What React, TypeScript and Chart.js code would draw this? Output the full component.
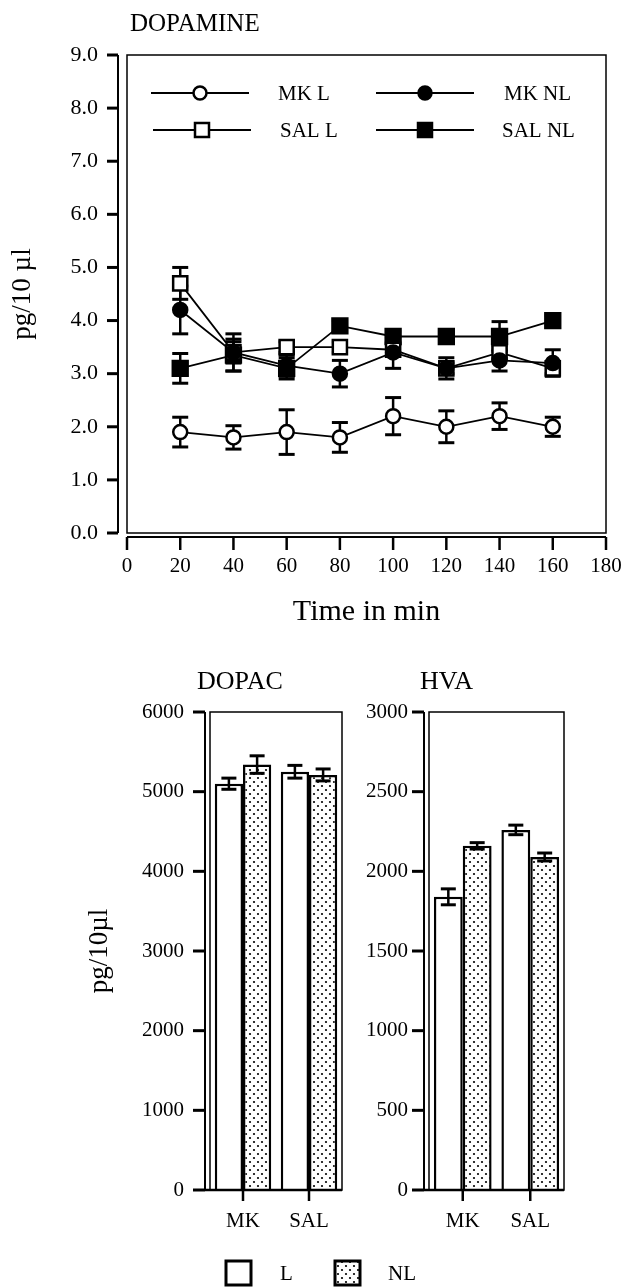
import React, { useEffect, useRef } from 'react';
import { Chart, registerables } from 'chart.js';
Chart.register(...registerables);

const FONT = '"Liberation Serif", "Times New Roman", serif';

// ---- DOPAMINE time course ----
const timePoints = [20, 40, 60, 80, 100, 120, 140, 160];
const mkL = [1.9, 1.8, 1.9, 1.8, 2.2, 2.0, 2.2, 2.0];
const mkLErr = [0.28, 0.22, 0.42, 0.28, 0.35, 0.3, 0.25, 0.18];
const mkNL = [4.2, 3.4, 3.15, 3.0, 3.4, 3.1, 3.25, 3.2];
const mkNLErr = [0.45, 0.35, 0.2, 0.25, 0.3, 0.2, 0.2, 0.25];
const salL = [4.7, 3.4, 3.5, 3.5, 3.45, 3.1, 3.4, 3.1];
const salLErr = [0.3, 0.2, 0.1, 0.1, 0.1, 0.1, 0.12, 0.1];
const salNL = [3.1, 3.35, 3.1, 3.9, 3.7, 3.7, 3.7, 4.0];
const salNLErr = [0.28, 0.3, 0.2, 0.1, 0.1, 0.1, 0.28, 0.1];
const seriesNames = ['MK L', 'MK NL', 'SAL L', 'SAL NL'];

// ---- DOPAC / HVA bars ----
const groups = ['MK', 'SAL'];
const dopacL = [5100, 5250];
const dopacLErr = [70, 80];
const dopacNL = [5340, 5210];
const dopacNLErr = [110, 75];
const hvaL = [1840, 2260];
const hvaLErr = [50, 30];
const hvaNL = [2160, 2090];
const hvaNLErr = [20, 25];
const barLegend = ['L', 'NL'];

function line(ctx: CanvasRenderingContext2D, x1: number, y1: number, x2: number, y2: number) {
  ctx.beginPath();
  ctx.moveTo(x1, y1);
  ctx.lineTo(x2, y2);
  ctx.stroke();
}

function marker(ctx: CanvasRenderingContext2D, style: string, filled: boolean, x: number, y: number) {
  ctx.save();
  ctx.lineWidth = 2.5;
  ctx.strokeStyle = '#000';
  ctx.fillStyle = filled ? '#000' : '#fff';
  ctx.beginPath();
  if (style === 'circle') ctx.arc(x, y, 6.5, 0, Math.PI * 2);
  else ctx.rect(x - 7, y - 7, 14, 14);
  ctx.fill();
  ctx.stroke();
  ctx.restore();
}

function errorBar(ctx: CanvasRenderingContext2D, x: number, yLo: number, yHi: number, cap: number) {
  ctx.lineWidth = 2.5;
  line(ctx, x, yLo, x, yHi);
  ctx.lineWidth = 3;
  line(ctx, x - cap / 2, yLo, x + cap / 2, yLo);
  line(ctx, x - cap / 2, yHi, x + cap / 2, yHi);
}

function dotPattern(ctx: CanvasRenderingContext2D) {
  const c = document.createElement('canvas');
  c.width = 8;
  c.height = 8;
  const g = c.getContext('2d')!;
  g.fillStyle = '#fff';
  g.fillRect(0, 0, 8, 8);
  g.fillStyle = '#000';
  g.beginPath();
  g.arc(2, 2, 1.1, 0, Math.PI * 2);
  g.fill();
  g.beginPath();
  g.arc(6, 6, 1.1, 0, Math.PI * 2);
  g.fill();
  return ctx.createPattern(c, 'repeat');
}

const topErrors = [mkLErr, mkNLErr, salLErr, salNLErr];

const topPlugin = {
  id: 'topFrame',
  beforeDatasetsDraw(chart: any) {
    const { ctx, chartArea: a, scales } = chart;
    const x = scales.x;
    const y = scales.y;
    ctx.save();
    ctx.strokeStyle = '#000';
    ctx.lineWidth = 1.5;
    ctx.strokeRect(a.left, a.top, a.right - a.left, a.bottom - a.top);
    const ax = a.left - 9;
    ctx.lineWidth = 2;
    line(ctx, ax, a.top, ax, a.bottom);
    ctx.lineWidth = 3;
    y.ticks.forEach((t: any) => {
      const py = y.getPixelForValue(t.value);
      line(ctx, ax - 11, py, ax, py);
    });
    const ay = a.bottom + 4;
    ctx.lineWidth = 2;
    line(ctx, a.left, ay, a.right, ay);
    ctx.lineWidth = 2.5;
    x.ticks.forEach((t: any) => {
      const px = x.getPixelForValue(t.value);
      line(ctx, px, ay, px, ay + 13);
    });
    chart.data.datasets.forEach((ds: any, i: number) => {
      const errs = topErrors[i];
      ds.data.forEach((p: any, j: number) => {
        const px = x.getPixelForValue(p.x);
        errorBar(ctx, px, y.getPixelForValue(p.y - errs[j]), y.getPixelForValue(p.y + errs[j]), 16);
      });
    });
    ctx.restore();
  },
  afterDraw(chart: any) {
    const { ctx, chartArea: a } = chart;
    ctx.save();
    ctx.fillStyle = '#000';
    ctx.strokeStyle = '#000';
    ctx.font = `25px ${FONT}`;
    ctx.textBaseline = 'middle';
    ctx.textAlign = 'left';
    ctx.fillText('DOPAMINE', a.left + 3, 24);
    const items = [
      { name: seriesNames[0], style: 'circle', filled: false, x: a.left + 24, y: 93, tx: a.left + 151 },
      { name: seriesNames[1], style: 'circle', filled: true, x: a.left + 249, y: 93, tx: a.left + 377 },
      { name: seriesNames[2], style: 'rect', filled: false, x: a.left + 26, y: 130, tx: a.left + 153 },
      { name: seriesNames[3], style: 'rect', filled: true, x: a.left + 249, y: 130, tx: a.left + 375 },
    ];
    ctx.font = `21px ${FONT}`;
    items.forEach((it) => {
      ctx.lineWidth = 1.8;
      line(ctx, it.x, it.y, it.x + 98, it.y);
      marker(ctx, it.style, it.filled, it.x + 49, it.y);
      ctx.fillText(it.name, it.tx, it.y + 1);
    });
    ctx.restore();
  },
};

function makeBarPlugin(errL: number[], errNL: number[], title: string, titleDx: number, withLegend: boolean, pattern: any) {
  return {
    id: 'barFrame',
    afterDatasetsDraw(chart: any) {
      const { ctx, chartArea: a, scales } = chart;
      const x = scales.x;
      const y = scales.y;
      ctx.save();
      ctx.strokeStyle = '#000';
      ctx.fillStyle = '#000';
      ctx.lineWidth = 1.5;
      ctx.strokeRect(a.left, a.top, a.right - a.left, a.bottom - a.top);
      const ax = a.left - 5;
      ctx.lineWidth = 2;
      line(ctx, ax, a.top, ax, a.bottom);
      ctx.lineWidth = 3;
      y.ticks.forEach((t: any) => {
        const py = y.getPixelForValue(t.value);
        line(ctx, ax - 12, py, ax, py);
      });
      ctx.lineWidth = 2.5;
      line(ctx, ax, a.bottom, a.right, a.bottom);
      x.ticks.forEach((_t: any, i: number) => {
        const px = x.getPixelForTick(i);
        line(ctx, px, a.bottom, px, a.bottom + 11);
      });
      [errL, errNL].forEach((errs, di) => {
        const meta = chart.getDatasetMeta(di);
        const vals = chart.data.datasets[di].data;
        meta.data.forEach((el: any, j: number) => {
          errorBar(ctx, el.x, y.getPixelForValue(vals[j] - errs[j]), y.getPixelForValue(vals[j] + errs[j]), 15);
        });
      });
      ctx.font = `26px ${FONT}`;
      ctx.textBaseline = 'middle';
      ctx.textAlign = 'left';
      ctx.fillText(title, a.left + titleDx, 42);
      if (withLegend) {
        ctx.lineWidth = 3;
        ctx.fillStyle = '#fff';
        ctx.fillRect(226, 621, 25, 24);
        ctx.strokeRect(226, 621, 25, 24);
        ctx.fillStyle = pattern;
        ctx.fillRect(335, 621, 25, 24);
        ctx.strokeRect(335, 621, 25, 24);
        ctx.fillStyle = '#000';
        ctx.font = `21px ${FONT}`;
        ctx.fillText(barLegend[0], 280, 634);
        ctx.fillText(barLegend[1], 388, 634);
      }
      ctx.restore();
    },
  };
}

function barChart(canvas: HTMLCanvasElement, cfg: any) {
  const ctx = canvas.getContext('2d')!;
  const pattern = dotPattern(ctx);
  return new Chart(canvas, {
    type: 'bar',
    data: {
      labels: groups,
      datasets: [
        { label: barLegend[0], data: cfg.L, backgroundColor: '#fff', borderColor: '#000', borderWidth: 2.5, categoryPercentage: 0.855, barPercentage: 1.0 },
        { label: barLegend[1], data: cfg.NL, backgroundColor: pattern, borderColor: '#000', borderWidth: 2.5, categoryPercentage: 0.855, barPercentage: 1.0 },
      ],
    },
    options: {
      animation: false,
      responsive: false,
      maintainAspectRatio: false,
      devicePixelRatio: 1,
      layout: { padding: { top: 72, right: 626 - cfg.right, left: 0, bottom: 0 } },
      plugins: { legend: { display: false }, tooltip: { enabled: false } },
      scales: {
        x: {
          afterFit: (s: any) => { s.height = 98; s.paddingLeft = 0; s.paddingRight = 0; },
          grid: { display: false, drawTicks: false },
          border: { display: false },
          ticks: { font: { family: FONT, size: 21 }, color: '#000', padding: 19 },
        },
        y: {
          min: 0,
          max: cfg.max,
          afterFit: (s: any) => { s.width = cfg.left; },
          grid: { display: false, drawTicks: false },
          border: { display: false },
          ticks: { stepSize: cfg.step, font: { family: FONT, size: 21 }, color: '#000', padding: cfg.tickPad, callback: (v: any) => String(v) },
          title: {
            display: cfg.yTitle,
            text: 'pg/10µl',
            font: { family: FONT, size: 27 },
            color: '#000',
            padding: { top: 84, bottom: 0 },
          },
        },
      },
    },
    plugins: [makeBarPlugin(cfg.Lerr, cfg.NLerr, cfg.title, cfg.titleDx, cfg.legend, pattern)],
  } as any);
}

export default function App() {
  const topRef = useRef<HTMLCanvasElement>(null);
  const dopacRef = useRef<HTMLCanvasElement>(null);
  const hvaRef = useRef<HTMLCanvasElement>(null);

  useEffect(() => {
    const pts = (vals: number[]) => timePoints.map((t, i) => ({ x: t, y: vals[i] }));
    const common = { borderColor: '#000', borderWidth: 1.8, pointBorderColor: '#000', pointBorderWidth: 2.5, showLine: true };
    const top = new Chart(topRef.current!, {
      type: 'scatter',
      data: {
        datasets: [
          { ...common, label: seriesNames[0], data: pts(mkL), pointStyle: 'circle', pointRadius: 7, pointBackgroundColor: '#fff' },
          { ...common, label: seriesNames[1], data: pts(mkNL), pointStyle: 'circle', pointRadius: 7, pointBackgroundColor: '#000' },
          { ...common, label: seriesNames[2], data: pts(salL), pointStyle: 'rect', pointRadius: 10, pointBackgroundColor: '#fff' },
          { ...common, label: seriesNames[3], data: pts(salNL), pointStyle: 'rect', pointRadius: 10.5, pointBackgroundColor: '#000' },
        ],
      },
      options: {
        animation: false,
        responsive: false,
        maintainAspectRatio: false,
        devicePixelRatio: 1,
        layout: { padding: { top: 55, right: 20, left: 0, bottom: 0 } },
        plugins: { legend: { display: false }, tooltip: { enabled: false } },
        scales: {
          x: {
            type: 'linear',
            min: 0,
            max: 180,
            afterFit: (s: any) => { s.height = 107; s.paddingLeft = 0; s.paddingRight = 0; },
            grid: { display: false, drawTicks: false },
            border: { display: false },
            ticks: { stepSize: 20, font: { family: FONT, size: 21 }, color: '#000', padding: 21, maxRotation: 0, autoSkip: false },
            title: { display: true, text: 'Time in min', font: { family: FONT, size: 30 }, color: '#000', padding: { top: 0, bottom: 10 } },
          },
          y: {
            type: 'linear',
            min: 0,
            max: 9,
            afterFit: (s: any) => { s.width = 127; },
            grid: { display: false, drawTicks: false },
            border: { display: false },
            ticks: { stepSize: 1, font: { family: FONT, size: 22 }, color: '#000', padding: 29, callback: (v: any) => Number(v).toFixed(1) },
            title: { display: true, text: 'pg/10 µl', font: { family: FONT, size: 27 }, color: '#000', padding: { top: 7, bottom: 0 } },
          },
        },
      },
      plugins: [topPlugin],
    } as any);

    const dopac = barChart(dopacRef.current!, {
      L: dopacL, NL: dopacNL, Lerr: dopacLErr, NLerr: dopacNLErr, max: 6000, step: 1000,
      left: 210, right: 342, tickPad: 26, yTitle: true, title: 'DOPAC', titleDx: -13, legend: true,
    });
    const hva = barChart(hvaRef.current!, {
      L: hvaL, NL: hvaNL, Lerr: hvaLErr, NLerr: hvaNLErr, max: 3000, step: 500,
      left: 429, right: 564, tickPad: 21, yTitle: false, title: 'HVA', titleDx: -9, legend: false,
    });
    return () => {
      top.destroy();
      dopac.destroy();
      hva.destroy();
    };
  }, []);

  const abs = (topPx: number): React.CSSProperties => ({ position: 'absolute', left: 0, top: topPx, display: 'block' });
  return (
    <div style={{ position: 'absolute', left: 0, top: 0, width: 626, height: 1288, background: '#fff' }}>
      <canvas ref={topRef} width={626} height={640} style={abs(0)} />
      <canvas ref={dopacRef} width={626} height={648} style={abs(640)} />
      <canvas ref={hvaRef} width={626} height={648} style={abs(640)} />
    </div>
  );
}
